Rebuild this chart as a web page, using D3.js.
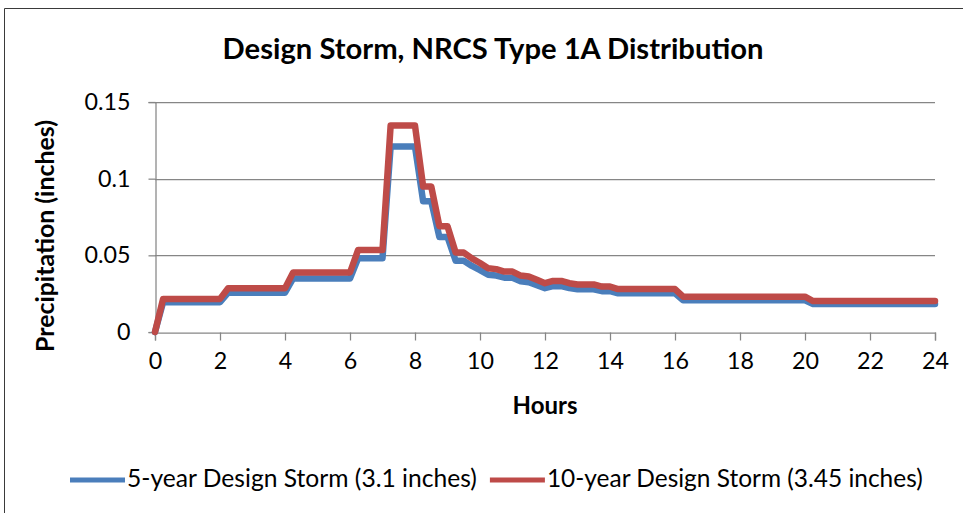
<!DOCTYPE html>
<html>
<head>
<meta charset="utf-8">
<script src="https://cdn.jsdelivr.net/npm/d3@7"></script>
<style>
  html, body { margin: 0; padding: 0; background: #fff; }
  svg { display: block; font-family: "Lato", "Open Sans", sans-serif; }
</style>
</head>
<body>
<svg id="chart" width="967" height="513"></svg>
<script>
// ---------------- DATA ----------------
const chartTitle = "Design Storm, NRCS Type 1A Distribution";
const xTitle = "Hours";
const yTitle = "Precipitation (inches)";
const seriesNames = ["5-year Design Storm (3.1 inches)", "10-year Design Storm (3.45 inches)"];

const hours = [
  0, 0.25, 0.5, 0.75, 1, 1.25, 1.5, 1.75, 2, 2.25, 2.5, 2.75, 3, 3.25, 3.5, 3.75, 4,
  4.25, 4.5, 4.75, 5, 5.25, 5.5, 5.75, 6, 6.25, 6.5, 6.75, 7, 7.25, 7.5, 7.75, 8,
  8.25, 8.5, 8.75, 9, 9.25, 9.5, 9.75, 10, 10.25, 10.5, 10.75, 11, 11.25, 11.5, 11.75, 12,
  12.25, 12.5, 12.75, 13, 13.25, 13.5, 13.75, 14, 14.25, 14.5, 14.75, 15, 15.25, 15.5, 15.75, 16,
  16.25, 16.5, 16.75, 17, 17.25, 17.5, 17.75, 18, 18.25, 18.5, 18.75, 19, 19.25, 19.5, 19.75, 20,
  20.25, 20.5, 20.75, 21, 21.25, 21.5, 21.75, 22, 22.25, 22.5, 22.75, 23, 23.25, 23.5, 23.75, 24
];

const storm5yr = [
  0,
  0.0194, 0.0194, 0.0194, 0.0194, 0.0194, 0.0194, 0.0194, 0.0194,
  0.0256, 0.0256, 0.0256, 0.0256, 0.0256, 0.0256, 0.0256, 0.0256,
  0.0349, 0.0349, 0.0349, 0.0349, 0.0349, 0.0349, 0.0349, 0.0349,
  0.0481, 0.0481, 0.0481, 0.0481,
  0.1209, 0.1209, 0.1209, 0.1209,
  0.0853, 0.0853, 0.062, 0.062, 0.0465, 0.0465,
  0.0431, 0.0404, 0.0374, 0.0368, 0.0354, 0.0354, 0.0331, 0.0325, 0.0306, 0.0286,
  0.0299, 0.0299, 0.0286, 0.0279, 0.0279, 0.0279, 0.0266, 0.0266,
  0.0252, 0.0252, 0.0252, 0.0252, 0.0252, 0.0252, 0.0252, 0.0252,
  0.0207, 0.0207, 0.0207, 0.0207, 0.0207, 0.0207, 0.0207, 0.0207,
  0.0207, 0.0207, 0.0207, 0.0207, 0.0207, 0.0207, 0.0207, 0.0207,
  0.0182, 0.0182, 0.0182, 0.0182, 0.0182, 0.0182, 0.0182, 0.0182,
  0.0182, 0.0182, 0.0182, 0.0182, 0.0182, 0.0182, 0.0182, 0.0182
];

const storm10yr = [
  0,
  0.0216, 0.0216, 0.0216, 0.0216, 0.0216, 0.0216, 0.0216, 0.0216,
  0.0285, 0.0285, 0.0285, 0.0285, 0.0285, 0.0285, 0.0285, 0.0285,
  0.0388, 0.0388, 0.0388, 0.0388, 0.0388, 0.0388, 0.0388, 0.0388,
  0.0535, 0.0535, 0.0535, 0.0535,
  0.1346, 0.1346, 0.1346, 0.1346,
  0.0949, 0.0949, 0.069, 0.069, 0.0518, 0.0518,
  0.048, 0.045, 0.0416, 0.041, 0.0394, 0.0394, 0.0368, 0.0362, 0.034, 0.0318,
  0.0333, 0.0333, 0.0318, 0.031, 0.031, 0.031, 0.0296, 0.0296,
  0.028, 0.028, 0.028, 0.028, 0.028, 0.028, 0.028, 0.028,
  0.023, 0.023, 0.023, 0.023, 0.023, 0.023, 0.023, 0.023,
  0.023, 0.023, 0.023, 0.023, 0.023, 0.023, 0.023, 0.023,
  0.0202, 0.0202, 0.0202, 0.0202, 0.0202, 0.0202, 0.0202, 0.0202,
  0.0202, 0.0202, 0.0202, 0.0202, 0.0202, 0.0202, 0.0202, 0.0202
];

const xTicks = [0, 2, 4, 6, 8, 10, 12, 14, 16, 18, 20, 22, 24];
const yTicks = [0, 0.05, 0.1, 0.15];
const yTickLabels = ["0", "0.05", "0.1", "0.15"];

// ---------------- STYLE / LAYOUT ----------------
const colors = ["#4A7EBB", "#BE4B48"];
const gridColor = "#868686";
const plot = { left: 155, right: 935, top: 102, bottom: 332 };

const svg = d3.select("#chart");

// fit text to a target width by adjusting font size
function fit(sel, target) {
  const w = sel.node().getComputedTextLength();
  const fs = parseFloat(sel.attr("font-size"));
  sel.attr("font-size", (fs * target / w).toFixed(2));
  return sel;
}

// chart area border (left & top visible)
svg.append("path")
  .attr("d", "M4.5,513 V8.5 H963")
  .attr("fill", "none")
  .attr("stroke", "#3a3a3a")
  .attr("stroke-width", 1);

const x = d3.scaleLinear().domain([0, 24]).range([plot.left, plot.right]);
const y = d3.scaleLinear().domain([0, 0.15]).range([plot.bottom, plot.top]);

// gridlines
svg.append("g")
  .selectAll("line")
  .data(yTicks.filter(d => d > 0))
  .join("line")
  .attr("x1", plot.left).attr("x2", plot.right)
  .attr("y1", d => Math.round(y(d)) + 0.5).attr("y2", d => Math.round(y(d)) + 0.5)
  .attr("stroke", gridColor).attr("stroke-width", 1.25);

// y axis
const yAxis = svg.append("g")
  .attr("transform", `translate(${plot.left + 0.5},0)`)
  .call(d3.axisLeft(y).tickValues(yTicks).tickFormat((d, i) => yTickLabels[i]).tickSize(7).tickPadding(18));
yAxis.select(".domain").attr("stroke", gridColor).attr("stroke-width", 1.25);
yAxis.selectAll(".tick line").attr("stroke", gridColor).attr("stroke-width", 1.25);
yAxis.selectAll(".tick text")
  .attr("font-family", "Lato").attr("font-size", 20).attr("fill", "#000");

// x axis
const xAxis = svg.append("g")
  .attr("transform", `translate(0,${plot.bottom + 0.5})`)
  .call(d3.axisBottom(x).tickValues(xTicks).tickFormat(d3.format("d")).tickSize(8).tickPadding(12));
xAxis.select(".domain").attr("stroke", gridColor).attr("stroke-width", 1.25);
xAxis.selectAll(".tick line").attr("stroke", gridColor).attr("stroke-width", 1.25);
xAxis.selectAll(".tick text")
  .attr("font-family", "Lato").attr("font-size", 20).attr("fill", "#000");

// fit tick label size to reference ("0.15" ~46px wide)
{
  const t = yAxis.selectAll(".tick text").filter((d) => d === 0.15);
  const w = t.node().getComputedTextLength();
  const fs = 20 * 46 / w;
  yAxis.selectAll(".tick text").attr("font-size", fs);
  xAxis.selectAll(".tick text").attr("font-size", fs);
}

// series lines
const line = d3.line().x((d, i) => x(hours[i])).y(d => y(d));
[storm5yr, storm10yr].forEach((s, k) => {
  svg.append("path")
    .datum(s)
    .attr("d", line)
    .attr("fill", "none")
    .attr("stroke", colors[k])
    .attr("stroke-width", 6.5)
    .attr("stroke-linejoin", "round")
    .attr("stroke-linecap", "round");
});

// title
fit(svg.append("text")
  .attr("x", 493).attr("y", 59)
  .attr("text-anchor", "middle")
  .attr("font-family", "Lato").attr("font-weight", "bold").attr("font-size", 26)
  .text(chartTitle), 541);

// x axis title
fit(svg.append("text")
  .attr("x", (plot.left + plot.right) / 2).attr("y", 414)
  .attr("text-anchor", "middle")
  .attr("font-family", "Lato").attr("font-weight", "bold").attr("font-size", 20)
  .text(xTitle), 65);

// y axis title
fit(svg.append("text")
  .attr("transform", "translate(54,236) rotate(-90)")
  .attr("text-anchor", "middle")
  .attr("font-family", "Lato").attr("font-weight", "bold").attr("font-size", 20)
  .text(yTitle), 232);

// legend
const legY = 480;
const legendTargets = [350, 376];
let lx = 70;
seriesNames.forEach((name, k) => {
  svg.append("line")
    .attr("x1", lx).attr("x2", lx + 55)
    .attr("y1", legY).attr("y2", legY)
    .attr("stroke", colors[k]).attr("stroke-width", 5);
  const t = fit(svg.append("text")
    .attr("x", lx + 57).attr("y", legY + 7)
    .attr("font-family", "Lato").attr("font-size", 20)
    .attr("fill", "#000")
    .text(name), legendTargets[k]);
  lx = lx + 57 + t.node().getComputedTextLength() + 13;
});
</script>
</body>
</html>
